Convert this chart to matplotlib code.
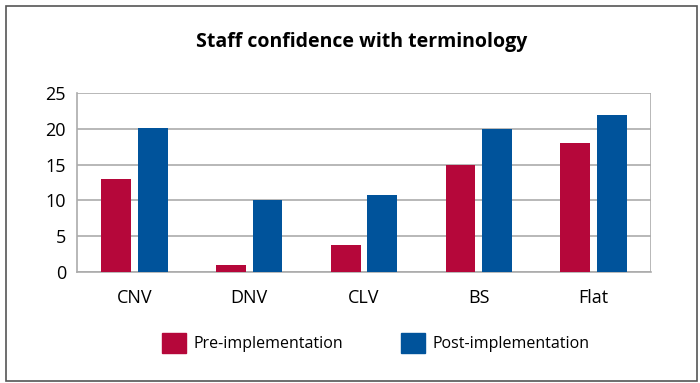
import matplotlib
matplotlib.use("Agg")
import matplotlib.pyplot as plt
import numpy as np
from matplotlib.patches import Rectangle

categories = ["CNV", "DNV", "CLV", "BS", "Flat"]
pre = [13, 0.9, 3.8, 15, 18]
post = [20.1, 10, 10.8, 20, 21.9]
series_names = ["Pre-implementation", "Post-implementation"]
yticks = [0, 5, 10, 15, 20, 25]

RED = "#B5073A"
BLUE = "#00539B"

plt.rcParams['font.family'] = ['Open Sans', 'DejaVu Sans']

fig = plt.figure(figsize=(7.0, 3.83), dpi=100)
ax = fig.add_axes([0.11, 0.29, 0.82, 0.467])

x = np.arange(len(categories))
w = 0.26
off = 0.16
ax.bar(x - off, pre, w, color=RED, zorder=3)
ax.bar(x + off, post, w, color=BLUE, zorder=3)

ax.set_xlim(-0.5, len(categories) - 0.5)
ax.set_ylim(0, 25)
ax.set_yticks(yticks)
ax.set_yticklabels([str(t) for t in yticks], fontsize=13)
ax.set_xticks(x)
ax.set_xticklabels(categories, fontsize=13)
ax.tick_params(axis='both', length=0, pad=8)
ax.tick_params(axis='x', pad=12)
ax.grid(axis='y', color='#ABABAB', linewidth=1.2, zorder=0)
for s in ['top', 'right']:
    ax.spines[s].set_visible(False)
ax.spines['left'].set_color('#ABABAB')
ax.spines['bottom'].set_color('#ABABAB')
ax.spines['left'].set_linewidth(1.2)
ax.spines['bottom'].set_linewidth(1.2)
ax.axvline(len(categories) - 0.5, color='#ABABAB', linewidth=1.2, zorder=1)

fig.text(0.517, 0.89, "Staff confidence with terminology", ha='center', va='center',
         fontsize=14, fontweight='bold')

fig.legend(handles=[Rectangle((0, 0), 1, 1, color=RED), Rectangle((0, 0), 1, 1, color=BLUE)],
           labels=series_names, loc='center', bbox_to_anchor=(0.537, 0.105), ncol=2,
           frameon=False, fontsize=11.5, handlelength=1.5, handleheight=1.5,
           handletextpad=0.5, columnspacing=3.6)

fig.patches.append(Rectangle((0.008, 0.006), 0.988, 0.978, transform=fig.transFigure,
                             fill=False, edgecolor='#555555', linewidth=1.2))

fig.savefig("out.png", dpi=100)
